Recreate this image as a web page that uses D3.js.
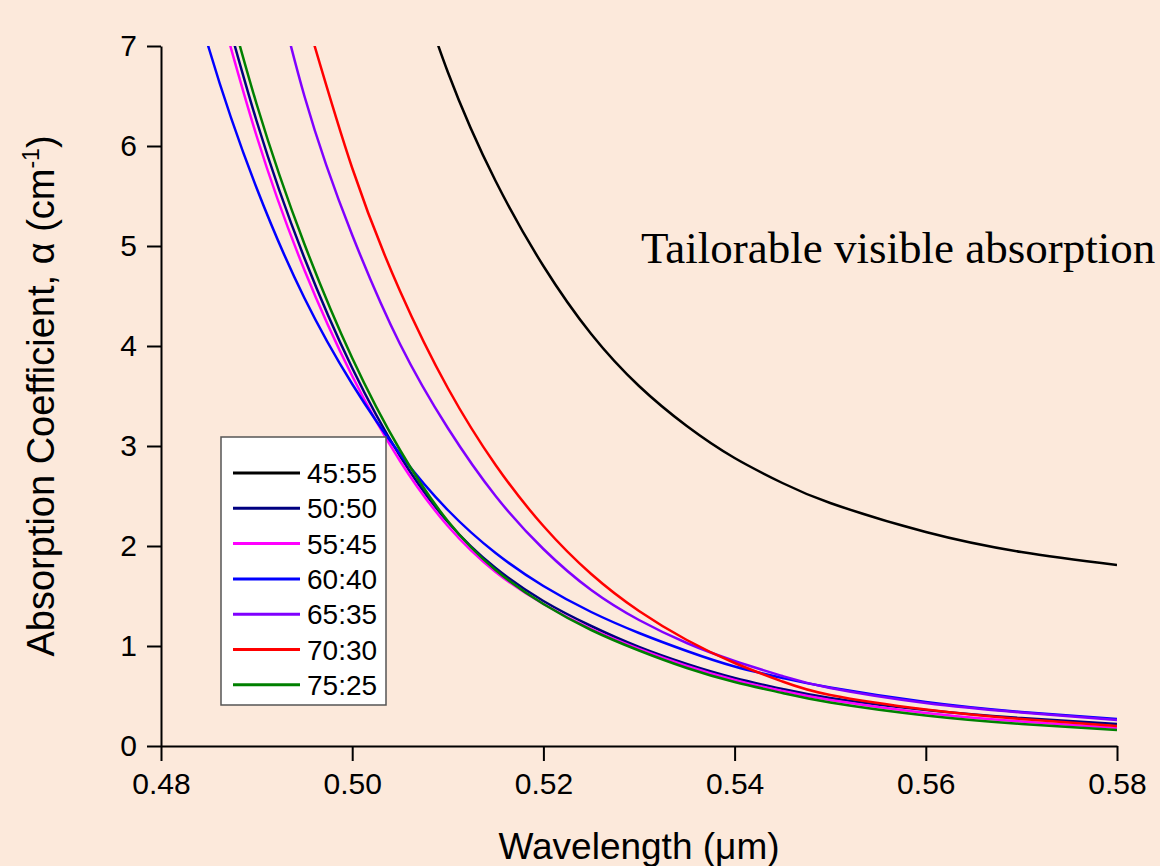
<!DOCTYPE html>
<html>
<head>
<meta charset="utf-8">
<script src="https://cdn.jsdelivr.net/npm/d3@7"></script>
<style>
html, body { margin: 0; padding: 0; background: #fce9db; }
svg { display: block; }
</style>
</head>
<body>
<svg width="1160" height="866"></svg>
<script>
// wavelength grid (um) (null = off the top of the plot)
var wavelengths = [0.48, 0.485, 0.49, 0.495, 0.50, 0.505, 0.51, 0.515, 0.52, 0.525, 0.53, 0.535, 0.54, 0.545, 0.55, 0.56, 0.57, 0.58];

var s_45_55 = [null, null, null, null, null, 8.15, 6.74, 5.65, 4.80, 4.12, 3.60, 3.20, 2.88, 2.63, 2.43, 2.14, 1.94, 1.81];
var s_50_50 = [null, 7.95, 6.25, 4.88, 3.78, 2.90, 2.24, 1.78, 1.45, 1.20, 0.99, 0.82, 0.68, 0.57, 0.48, 0.36, 0.28, 0.22];
var s_55_45 = [null, 7.78, 6.10, 4.76, 3.70, 2.85, 2.20, 1.74, 1.42, 1.17, 0.97, 0.80, 0.66, 0.55, 0.46, 0.33, 0.245, 0.18];
var s_60_40 = [8.75, 6.98, 5.58, 4.48, 3.62, 2.92, 2.36, 1.93, 1.60, 1.34, 1.13, 0.95, 0.795, 0.68, 0.585, 0.44, 0.34, 0.27];
var s_65_35 = [null, null, 8.4, 6.5, 5.11, 4.02, 3.18, 2.50, 1.97, 1.56, 1.26, 1.03, 0.85, 0.70, 0.58, 0.43, 0.335, 0.26];
var s_70_30 = [null, null, null, 7.35, 5.78, 4.55, 3.58, 2.81, 2.20, 1.72, 1.35, 1.06, 0.83, 0.645, 0.51, 0.365, 0.27, 0.20];
var s_75_25 = [null, 8.15, 6.42, 5.02, 3.88, 2.96, 2.25, 1.76, 1.42, 1.16, 0.955, 0.78, 0.64, 0.53, 0.435, 0.305, 0.22, 0.16];

var seriesNames = ['45:55', '50:50', '55:45', '60:40', '65:35', '70:30', '75:25'];
var seriesValues = [s_45_55, s_50_50, s_55_45, s_60_40, s_65_35, s_70_30, s_75_25];
var seriesColors = ['#000000', '#000080', '#ff00ff', '#0000ff', '#8000ff', '#ff0000', '#008000'];

var xMajor = [0.48, 0.50, 0.52, 0.54, 0.56, 0.58];
var xMinor = [0.49, 0.51, 0.53, 0.55, 0.57];
var yMajor = [0, 1, 2, 3, 4, 5, 6, 7];
var yMinor = [0.5, 1.5, 2.5, 3.5, 4.5, 5.5, 6.5];

function renderChart() {
	var svg = d3.select('svg');
	var plot = {left: 161, right: 1117, top: 46, bottom: 746};
	var sans = '"Liberation Sans", Arial, Helvetica, sans-serif';

	var x = d3.scaleLinear().domain([0.48, 0.58]).range([plot.left, plot.right]);
	var y = d3.scaleLinear().domain([0, 7]).range([plot.bottom, plot.top]);

	svg.append('rect')
		.attr('width', 1160)
		.attr('height', 866)
		.style('fill', '#fce9db');

	svg.append('clipPath').attr('id', 'plotclip')
		.append('rect')
		.attr('x', plot.left)
		.attr('y', plot.top)
		.attr('width', plot.right - plot.left)
		.attr('height', plot.bottom - plot.top);

	// curves
	var line = d3.line()
		.defined(function(d) { return d.v != null; })
		.x(function(d) { return x(d.w); })
		.y(function(d) { return y(d.v); })
		.curve(d3.curveNatural);

	var g_lines = svg.append('g').attr('clip-path', 'url(#plotclip)');
	seriesValues.forEach(function(vals, i) {
		var pts = wavelengths.map(function(w, j) { return {w: w, v: vals[j]}; });
		g_lines.append('path')
			.attr('d', line(pts))
			.style('fill', 'none')
			.style('stroke', seriesColors[i])
			.style('stroke-width', '2.5px');
	});

	// axes
	var gx = svg.append('g').attr('transform', 'translate(0,' + plot.bottom + ')');
	gx.call(d3.axisBottom(x).tickValues(xMinor).tickSize(7).tickSizeOuter(0).tickFormat(''));
	gx.call(d3.axisBottom(x).tickValues(xMajor).tickSize(15).tickSizeOuter(0).tickPadding(12)
		.tickFormat(d3.format('.2f')));

	var gy = svg.append('g').attr('transform', 'translate(' + plot.left + ',0)');
	gy.call(d3.axisLeft(y).tickValues(yMinor).tickSize(7).tickSizeOuter(0).tickFormat(''));
	gy.call(d3.axisLeft(y).tickValues(yMajor).tickSize(14).tickSizeOuter(0).tickPadding(10)
		.tickFormat(d3.format('d')));

	svg.selectAll('.domain, .tick line')
		.style('stroke', '#000')
		.style('stroke-width', '2px');
	svg.selectAll('.tick text')
		.style('font-family', sans)
		.style('font-size', '30px')
		.style('fill', '#000');

	// axis titles
	svg.append('text')
		.attr('x', (plot.left + plot.right) / 2)
		.attr('y', 859)
		.attr('text-anchor', 'middle')
		.style('font-family', sans)
		.style('font-size', '37px')
		.text('Wavelength (\u03bcm)');

	var ytitle = svg.append('text')
		.attr('transform', 'translate(54,' + (plot.top + plot.bottom) / 2 + ') rotate(-90)')
		.attr('text-anchor', 'middle')
		.style('font-family', sans)
		.style('font-size', '38px');
	ytitle.append('tspan').text('Absorption Coefficient, \u03b1 (cm');
	ytitle.append('tspan').attr('dy', -15).style('font-size', '23px').text('-1');
	ytitle.append('tspan').attr('dy', 15).text(')');

	// annotation
	svg.append('text')
		.attr('x', 641)
		.attr('y', 263)
		.style('font-family', '"Liberation Serif", "Times New Roman", serif')
		.style('font-size', '45px')
		.style('fill', '#000')
		.text('Tailorable visible absorption');

	// legend
	var leg = {x: 221, y: 437, w: 165, h: 268, row0: 473, step: 35.3};
	var g_leg = svg.append('g');
	g_leg.append('rect')
		.attr('x', leg.x)
		.attr('y', leg.y)
		.attr('width', leg.w)
		.attr('height', leg.h)
		.style('fill', '#fff')
		.style('stroke', '#555')
		.style('stroke-width', '1.5px');
	seriesNames.forEach(function(name, i) {
		var ry = leg.row0 + i * leg.step;
		g_leg.append('line')
			.attr('x1', 233).attr('x2', 300)
			.attr('y1', ry).attr('y2', ry)
			.style('stroke', seriesColors[i])
			.style('stroke-width', '3px');
		g_leg.append('text')
			.attr('x', 307)
			.attr('y', ry)
			.attr('dy', '0.36em')
			.style('font-family', sans)
			.style('font-size', '28px')
			.text(name);
	});
}

renderChart();
</script>
</body>
</html>
